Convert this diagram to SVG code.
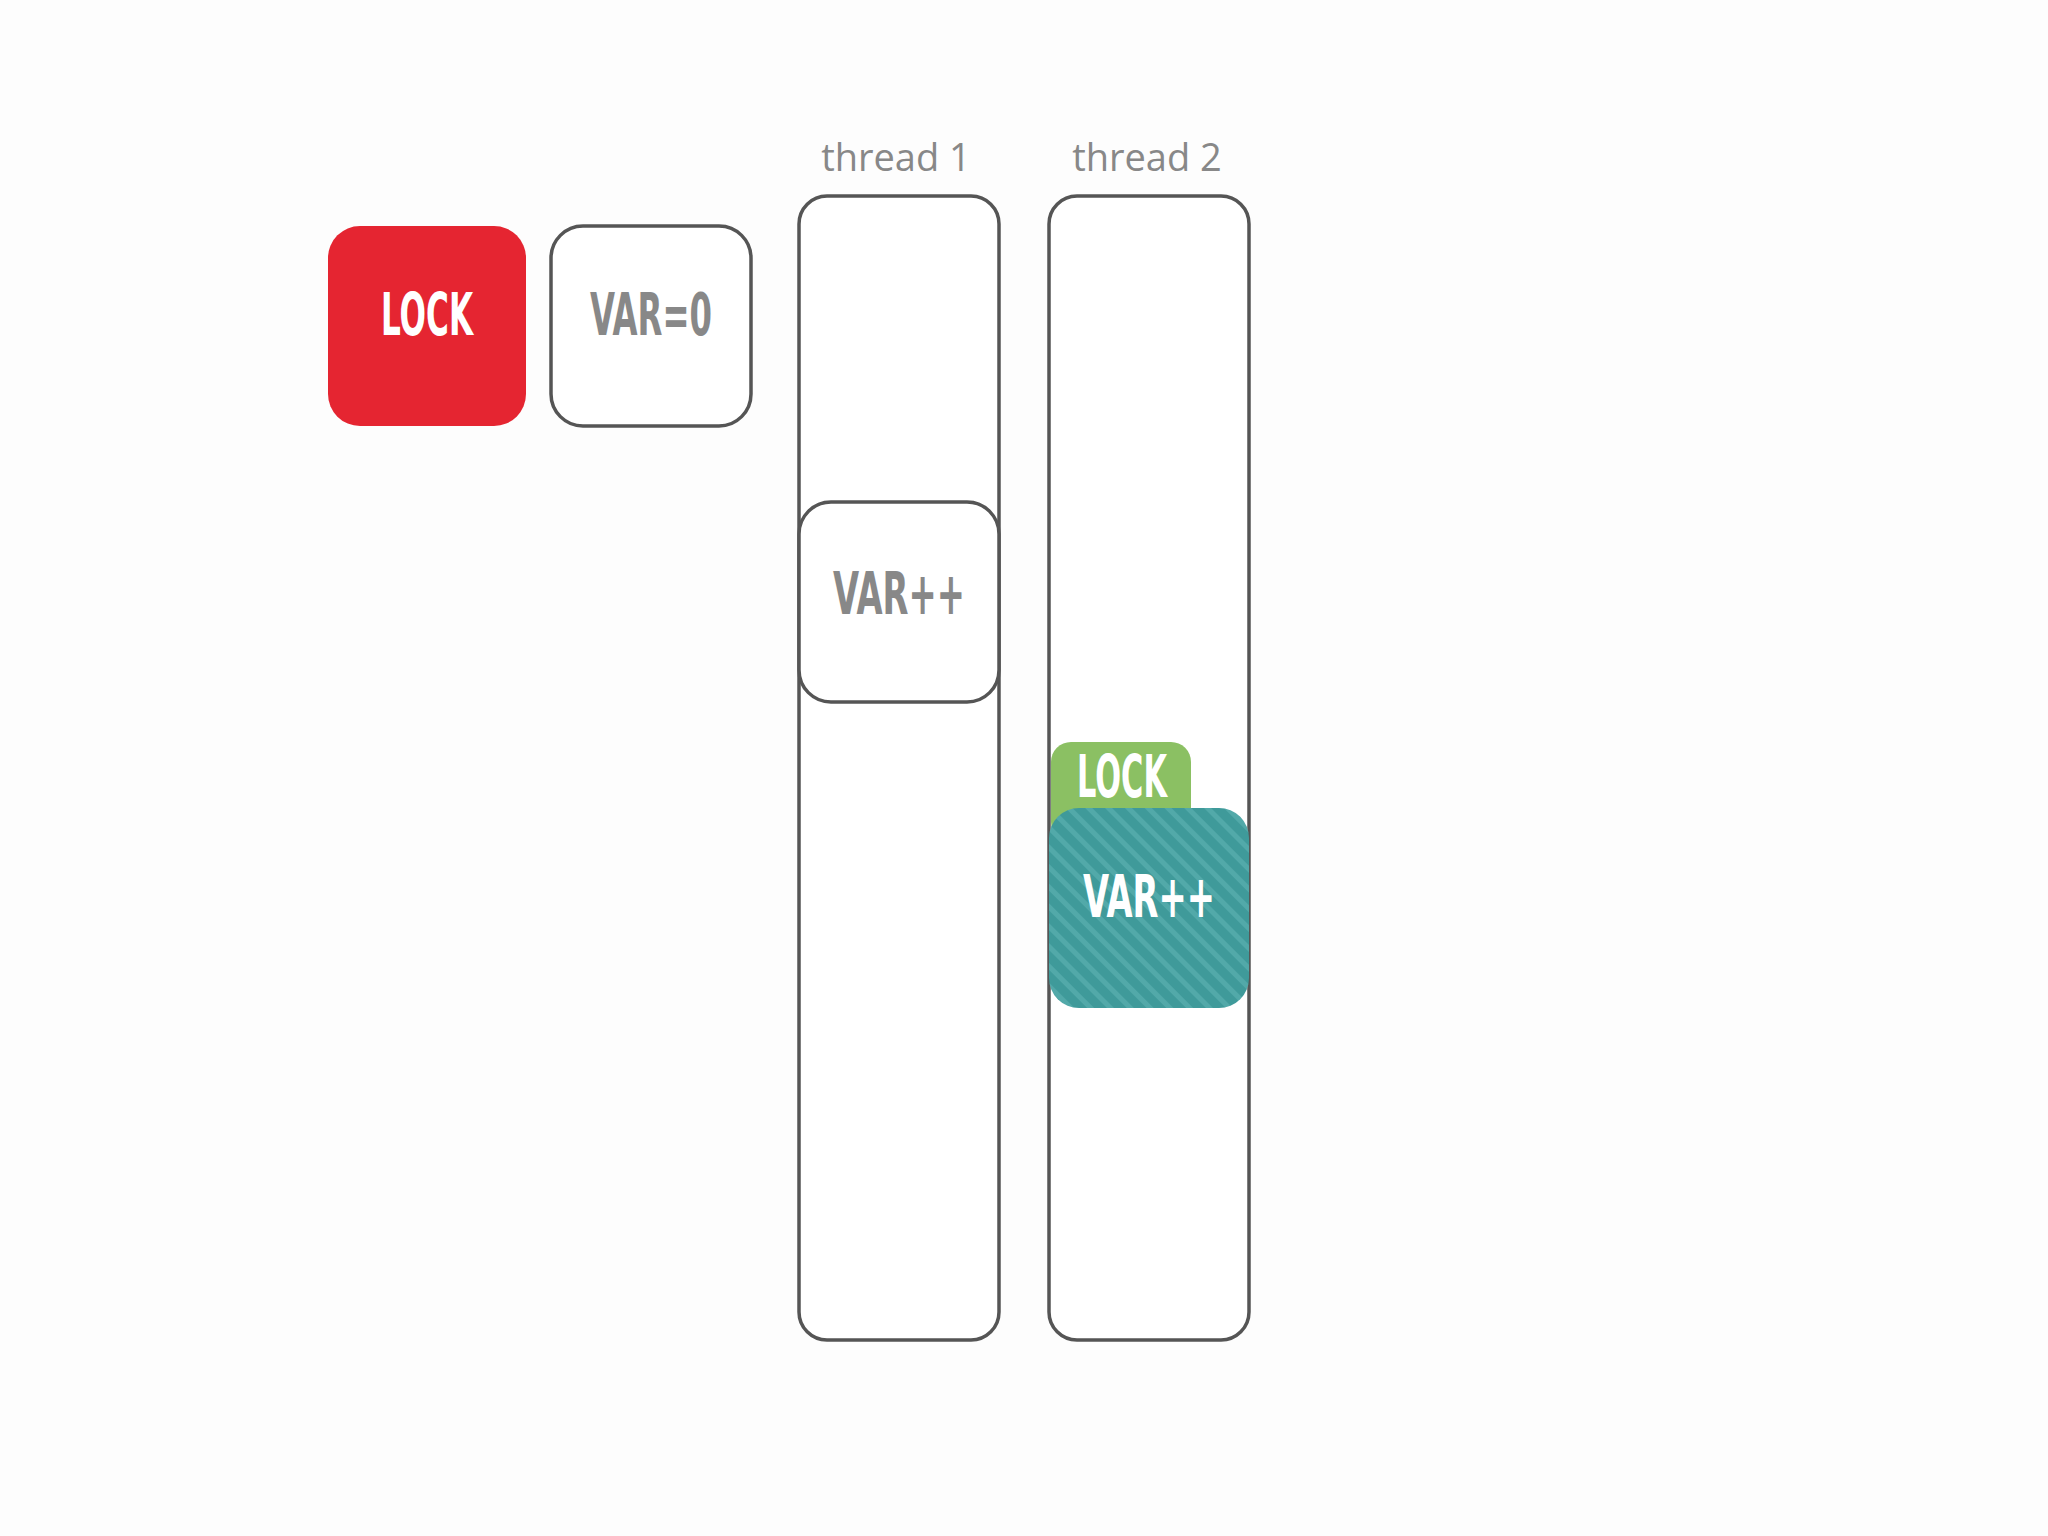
<svg xmlns="http://www.w3.org/2000/svg" width="2048" height="1536" viewBox="0 0 2048 1536">
<style>
.col{fill:#fff;stroke:#555;stroke-width:3.5}
.lbl{font-family:"Open Sans","DejaVu Sans",sans-serif;font-size:38px;fill:#888;text-anchor:middle}
.bx{font-family:"DejaVu Sans Condensed","DejaVu Sans",sans-serif;font-size:58px;font-weight:bold;text-anchor:middle}
</style>
<defs>
<pattern id="hatch" width="14" height="14" patternUnits="userSpaceOnUse" patternTransform="rotate(-45)">
<rect width="14" height="14" fill="#3f9a9a"/>
<rect width="5" height="14" fill="#52a9a9"/>
</pattern>
</defs>
<rect width="2048" height="1536" fill="#fdfdfd"/>
<g id="lock-red"><rect x="328" y="226" width="198" height="200" rx="32" fill="#e52531"/>
<text class="bx" x="427" y="335" fill="#fff" textLength="92" lengthAdjust="spacingAndGlyphs">LOCK</text></g>
<g id="var0"><rect x="551" y="226" width="200" height="200" rx="32" class="col"/>
<text class="bx" x="651" y="335" fill="#888" textLength="122" lengthAdjust="spacingAndGlyphs">VAR=0</text></g>
<g id="thread1"><text class="lbl" x="896" y="171">thread 1</text>
<rect x="799" y="196" width="200" height="1144" rx="28" class="col"/></g>
<g id="thread2"><text class="lbl" x="1147" y="171">thread 2</text>
<rect x="1049" y="196" width="200" height="1144" rx="28" class="col"/></g>
<g id="var-t1"><rect x="799" y="502" width="200" height="200" rx="32" class="col"/>
<text class="bx" x="899" y="614" fill="#888" textLength="132" lengthAdjust="spacingAndGlyphs">VAR++</text></g>
<g id="lock-green"><rect x="1051" y="742" width="140" height="100" rx="20" fill="#8bc063"/>
<text class="bx" x="1122" y="797" fill="#fff" textLength="90" lengthAdjust="spacingAndGlyphs">LOCK</text></g>
<g id="var-t2"><rect x="1049" y="808" width="200" height="200" rx="30" fill="url(#hatch)"/>
<text class="bx" x="1149" y="917" fill="#fff" textLength="132" lengthAdjust="spacingAndGlyphs">VAR++</text></g>
<g id="connectors"/>
</svg>
